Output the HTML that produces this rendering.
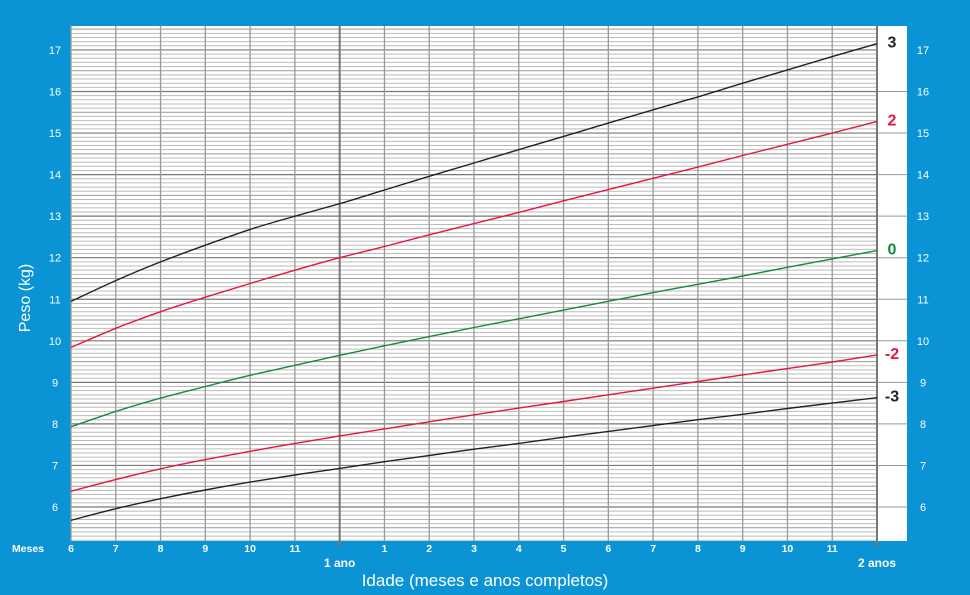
<!DOCTYPE html>
<html><head><meta charset="utf-8"><style>
body{margin:0;background:#0a94d6;}
svg{display:block;font-family:"Liberation Sans",Arial,sans-serif;}
</style></head><body>
<svg id="c" width="970" height="595">
<rect width="970" height="595" fill="#0a94d6"/>
<g id="g"></g>
</svg>
<script>
const months=[6,7,8,9,10,11,12,13,14,15,16,17,18,19,20,21,22,23,24];
const sdM3=[5.68,5.96,6.2,6.41,6.6,6.77,6.93,7.09,7.24,7.39,7.53,7.68,7.82,7.96,8.1,8.23,8.37,8.5,8.63];
const sdM2=[6.38,6.66,6.92,7.14,7.34,7.53,7.71,7.88,8.05,8.22,8.38,8.54,8.70,8.86,9.02,9.18,9.33,9.49,9.66];
const sd0=[7.93,8.30,8.62,8.90,9.17,9.41,9.65,9.88,10.10,10.32,10.53,10.74,10.95,11.16,11.36,11.56,11.77,11.97,12.17];
const sdP2=[9.84,10.30,10.70,11.05,11.38,11.70,12.0,12.27,12.55,12.82,13.09,13.37,13.64,13.91,14.18,14.46,14.73,15.0,15.28];
const sdP3=[10.95,11.45,11.9,12.3,12.68,13.0,13.3,13.63,13.96,14.28,14.60,14.92,15.24,15.56,15.87,16.2,16.52,16.84,17.15];
const yTicks=[6,7,8,9,10,11,12,13,14,15,16,17];
const xTickLabels=["6","7","8","9","10","11","","1","2","3","4","5","6","7","8","9","10","11",""];
const seriesNames=["3","2","0","-2","-3"];

const NS="http://www.w3.org/2000/svg";
const g=document.getElementById('g');
const X0=71,X1=877,Y0=26,Y1=541;
const x=m=>X0+(m-6)*(X1-X0)/18;
const y=v=>507-(v-6)*41.55;
function el(t,a,txt){const e=document.createElementNS(NS,t);for(const k in a)e.setAttribute(k,a[k]);if(txt!==undefined)e.textContent=txt;g.appendChild(e);return e;}

let r=el('rect',{x:X0,y:Y0,width:907-X0,height:Y1-Y0,fill:'#fff'});


for(let i=52;i<=176;i++){
 const v=i/10,yy=y(v);
 if(yy<Y0||yy>Y1)continue;
 const major=i%10===0,half=i%5===0;
 const l=el('line',{x1:X0,x2:X1,y1:yy,y2:yy,stroke:major?'#777':(half?'#999':'#bbb'),'stroke-width':major?1.2:1});
 
 
}
yTicks.forEach(v=>{
 if(v===17)return;
 const l=el('line',{x1:X1,x2:907,y1:y(v),y2:y(v),stroke:'#999','stroke-width':1});
 
 
});
months.forEach(m=>{
 const big=(m===12||m===24);
 const l=el('line',{x1:x(m),x2:x(m),y1:Y0,y2:Y1+(big?6:0),stroke:big?'#777':'#999','stroke-width':big?2:1.3});
 
 
});
yTicks.forEach(v=>{
 let t=el('text',{x:55,y:y(v)+4,fill:'#fff','font-size':11,'text-anchor':'middle'},v);
 
 
 t=el('text',{x:923,y:y(v)+4,fill:'#fff','font-size':11,'text-anchor':'middle'},v);
 
 
});
months.forEach((m,i)=>{
 if(!xTickLabels[i])return;
 const t=el('text',{x:x(m),y:552,fill:'#fff','font-size':10.5,'font-weight':'bold','text-anchor':'middle'},xTickLabels[i]);
 
 
});
let t=el('text',{x:28,y:552,fill:'#fff','font-size':10.5,'font-weight':'bold','text-anchor':'middle'},'Meses');


t=el('text',{x:x(12),y:567,fill:'#fff','font-size':12,'font-weight':'bold','text-anchor':'middle'},'1 ano');


t=el('text',{x:x(24),y:567,fill:'#fff','font-size':12,'font-weight':'bold','text-anchor':'middle'},'2 anos');


t=el('text',{x:485,y:586,fill:'#fff','font-size':17,'text-anchor':'middle'},'Idade (meses e anos completos)');


t=el('text',{x:0,y:0,fill:'#fff','font-size':16,'text-anchor':'middle',transform:'translate(30,298) rotate(-90)'},'Peso (kg)');



function smooth(pts){
 let d='M'+pts[0][0].toFixed(1)+','+pts[0][1].toFixed(1);
 for(let i=0;i<pts.length-1;i++){
  const p0=pts[Math.max(0,i-1)],p1=pts[i],p2=pts[i+1],p3=pts[Math.min(pts.length-1,i+2)];
  const c1=[p1[0]+(p2[0]-p0[0])/6,p1[1]+(p2[1]-p0[1])/6];
  const c2=[p2[0]-(p3[0]-p1[0])/6,p2[1]-(p3[1]-p1[1])/6];
  d+=' C'+c1[0].toFixed(1)+','+c1[1].toFixed(1)+' '+c2[0].toFixed(1)+','+c2[1].toFixed(1)+' '+p2[0].toFixed(1)+','+p2[1].toFixed(1);
 }
 return d;
}
const series=[sdP3,sdP2,sd0,sdM2,sdM3];
const colors=['#222','#e3173e','#168a3c','#e3173e','#222'];
series.forEach((s,k)=>{
 const pts=s.map((v,i)=>[x(months[i]),y(v)]);
 const p=el('path',{d:smooth(pts),fill:'none',stroke:colors[k],'stroke-width':1.4});
 
 
 const lt=el('text',{x:892,y:y(s[s.length-1])+4,fill:colors[k],'font-size':16,'font-weight':'bold','text-anchor':'middle'},seriesNames[k]);
 
 
});
</script>
</body></html>
